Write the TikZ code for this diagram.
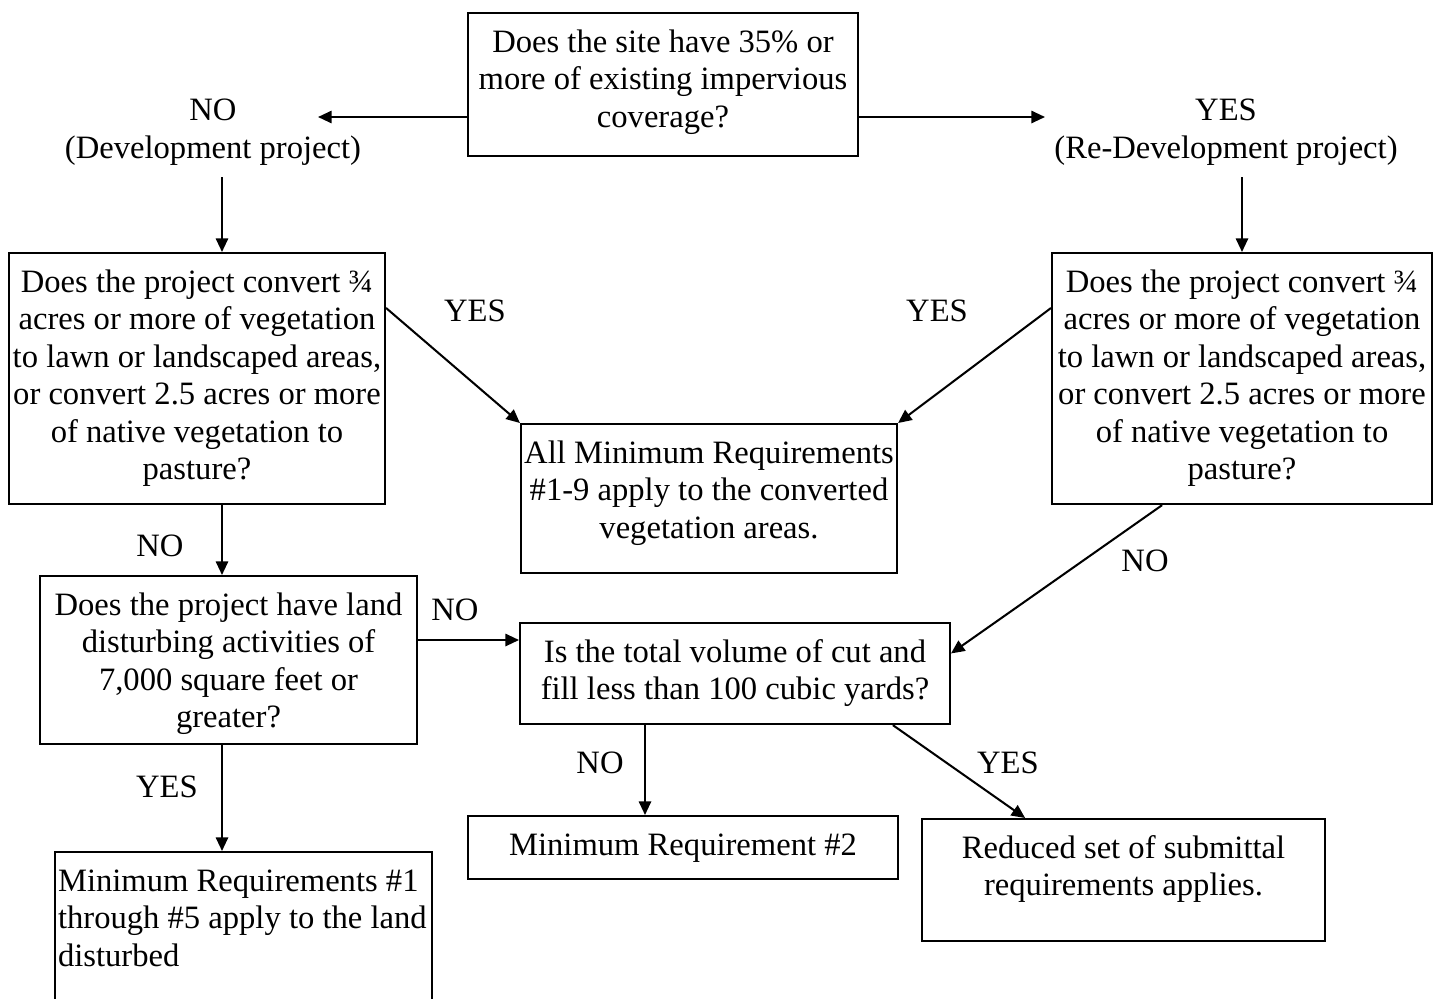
\documentclass[tikz,border=0pt]{standalone}
\usepackage{fontspec}
\setmainfont{Liberation Serif}
\usetikzlibrary{arrows.meta, calc, positioning}
\hyphenpenalty=10000

\begin{document}
\begin{tikzpicture}[x=0.368pt, y=-0.368pt,
  box/.style={draw, line width=0.75pt, anchor=north, align=flush center, inner xsep=0pt, inner ysep=5.9pt,
    text height=8.5pt, font=\fontsize{12}{13.8}\selectfont},
  lbl/.style={align=flush center, inner sep=0pt, font=\fontsize{12}{13.8}\selectfont},
  arr/.style={line width=0.75pt, -{Triangle[length=5pt, width=4.5pt]}}]
\useasboundingbox (0,0) rectangle (1442,998);

% Helper coordinates
\coordinate (rowA) at (0,117);
\coordinate (rowB) at (0,640);
\coordinate (spine) at (222,0);
\coordinate (noDown) at (645,0);
\coordinate (noTip) at (318,117);
\coordinate (yesTip) at (1045,117);
\coordinate (devTop) at (222,177);
\coordinate (redevTop) at (1242,177);

% Questions
\node[box, text width=143.5pt, text depth=32.3pt] (site) at (663,12)
  {Does the site have 35\% or\\more of existing impervious\\coverage?};
\node[box, text width=138.4pt, text depth=72.1pt] (devq) at (197,252)
  {Does the project convert ¾\\acres or more of vegetation\\to lawn or landscaped areas,\\or convert 2.5 acres or more\\of native vegetation to\\pasture?};
\node[box, text width=139.8pt, text depth=72.1pt] (redevq) at (1242,252)
  {Does the project convert ¾\\acres or more of vegetation\\to lawn or landscaped areas,\\or convert 2.5 acres or more\\of native vegetation to\\pasture?};
\node[box, text width=138.7pt, text depth=41.5pt] (landq) at (228.5,575)
  {Does the project have land\\disturbing activities of\\7,000 square feet or\\greater?};
\node[box, text width=158.2pt, text depth=16.9pt] (cutq) at (735,622)
  {Is the total volume of cut and\\fill less than 100 cubic yards?};

% Outcomes
\node[box, text width=138.4pt, text depth=34.5pt] (allmin) at (709,423)
  {All Minimum Requirements\\\#1-9 apply to the converted\\vegetation areas.};
\node[box, text width=158.2pt, text depth=2.9pt] (mrtwo) at (683,815)
  {Minimum Requirement \#2};
\node[box, text width=148.3pt, text depth=24.6pt] (redux) at (1123.5,818)
  {Reduced set of submittal\\requirements applies.};
\node[box, align=flush left, text width=136.5pt, minimum width=138.7pt, text depth=60pt] (mrone) at (243.5,851)
  {Minimum Requirements \#1\\through \#5 apply to the land\\disturbed};

% Labels
\node[lbl] (devlbl) at (213,132) {NO\\(Development project)};
\node[lbl] (redevlbl) at (1226,132) {YES\\(Re-Development project)};
\node[lbl] (yesL) at (475,311) {YES};
\node[lbl] (yesR) at (937,311) {YES};
\node[lbl] (noA) at (160,546) {NO};
\node[lbl] (noB) at (455,610) {NO};
\node[lbl] (noC) at (1145,561) {NO};
\node[lbl] (noD) at (600,763) {NO};
\node[lbl] (yesC) at (1008,763) {YES};
\node[lbl] (yesD) at (167,787) {YES};

% Connectors
\draw[arr] (site.west |- rowA) -- (noTip);
\draw[arr] (site.east |- rowA) -- (yesTip);
\draw[arr] (devTop) -- (devq.north -| spine);
\draw[arr] (redevTop) -- (redevq.north);
\draw[arr] ([yshift=-20.6pt]devq.north east) -- (allmin.north west);
\draw[arr] ([yshift=-20.6pt]redevq.north west) -- (allmin.north east);
\draw[arr] (devq.south -| spine) -- (landq.north -| spine);
\draw[arr] (landq.east |- rowB) -- (cutq.west |- rowB);
\draw[arr] ([xshift=-29.4pt]redevq.south) -- ([yshift=7.4pt]cutq.east);
\draw[arr] (cutq.south -| noDown) -- (mrtwo.north -| noDown);
\draw[arr] ([xshift=58.1pt]cutq.south) -- ([xshift=-36.2pt]redux.north);
\draw[arr] (landq.south -| spine) -- (mrone.north -| spine);
\end{tikzpicture}
\end{document}
